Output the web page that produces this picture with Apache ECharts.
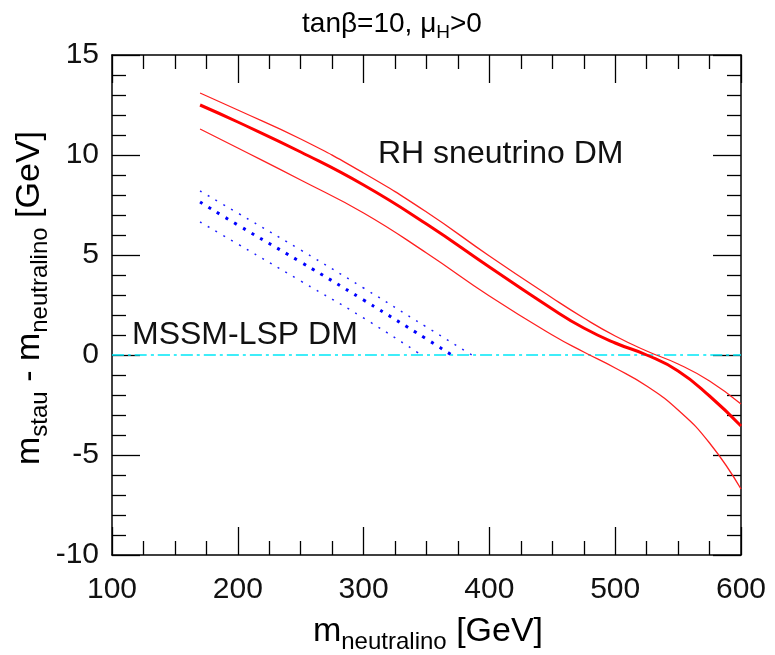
<!DOCTYPE html>
<html>
<head>
<meta charset="utf-8">
<script src="https://cdn.jsdelivr.net/npm/echarts@6/dist/echarts.min.js"></script>
<style>
html,body{margin:0;padding:0;background:#fff;}
#chart{width:775px;height:655px;}
</style>
</head>
<body>
<div id="chart"></div>
<script>
// ---- data ----
var xTicks = [100, 200, 300, 400, 500, 600];
var yTicks = [-10, -5, 0, 5, 10, 15];

var redX      = [170, 200, 250, 300, 350, 400, 450, 475, 500, 525, 550, 575, 600];
var redCenter = [12.5, 11.65, 10.15, 8.5, 6.55, 4.4, 2.3, 1.35, 0.6, 0.0, -0.8, -2.05, -3.55];
var redUpper  = [13.1, 12.25, 10.8, 9.1, 7.15, 4.95, 2.85, 1.85, 0.95, 0.2, -0.45, -1.3, -2.45];
var redLower  = [11.3, 10.35, 8.75, 7.1, 5.1, 2.95, 1.0, 0.15, -0.65, -1.55, -2.75, -4.4, -6.7];

var blueUpperX = [170, 200, 250, 300, 350, 386];
var blueUpperY = [8.2, 7.1, 5.25, 3.35, 1.4, 0];
var blueCenterX = [170, 200, 250, 300, 350, 370];
var blueCenterY = [7.65, 6.5, 4.65, 2.75, 0.8, 0];
var blueLowerX = [170, 200, 250, 300, 346];
var blueLowerY = [6.65, 5.55, 3.7, 1.85, 0];

var zeroLineX = [100, 600];
var zeroLineY = [0, 0];

function pairs(xs, ys) { return xs.map(function (x, i) { return [x, ys[i]]; }); }

var FONT = '"Liberation Sans", Arial, sans-serif';
var chart = echarts.init(document.getElementById('chart'));

function xAx(pos, showLabel) {
  return {
    type: 'value', position: pos, min: xTicks[0], max: xTicks[xTicks.length - 1], interval: 100,
    axisLine: { show: true, onZero: false, lineStyle: { color: '#000', width: 1.5 } },
    axisTick: { show: true, inside: true, length: 28, lineStyle: { color: '#000', width: 1.3 } },
    minorTick: { show: true, splitNumber: 4, length: 14, lineStyle: { color: '#000', width: 1.3 } },
    splitLine: { show: false },
    axisLabel: { show: showLabel, margin: 20, color: '#111', fontSize: 30, fontFamily: FONT }
  };
}
function yAx(pos, showLabel) {
  return {
    type: 'value', position: pos, min: yTicks[0], max: yTicks[yTicks.length - 1], interval: 5,
    axisLine: { show: true, onZero: false, lineStyle: { color: '#000', width: 1.5 } },
    axisTick: { show: true, inside: true, length: 28, lineStyle: { color: '#000', width: 1.3 } },
    minorTick: { show: true, splitNumber: 5, length: 14, lineStyle: { color: '#000', width: 1.3 } },
    splitLine: { show: false },
    axisLabel: { show: showLabel, margin: 13, color: '#111', fontSize: 30, fontFamily: FONT }
  };
}

function line(data, color, width, type, z) {
  return {
    type: 'line', data: data, smooth: 0.5, showSymbol: false, symbol: 'none',
    xAxisIndex: 0, yAxisIndex: 0, z: z || 2,
    lineStyle: { color: color, width: width, type: type }
  };
}

var titleRich = {
  a: { fontSize: 28, fontFamily: FONT, color: '#111' },
  s: { fontSize: 19, fontFamily: FONT, color: '#111', padding: [18, 0, 0, 0] }
};
var axRich = {
  a: { fontSize: 34, fontFamily: FONT, color: '#111' },
  s: { fontSize: 24, fontFamily: FONT, color: '#111', padding: [20, 0, 0, 0] }
};

chart.setOption({
  animation: false,
  backgroundColor: '#fff',
  grid: { left: 112, right: 34, top: 55, bottom: 100, containLabel: false },
  xAxis: [xAx('bottom', true), xAx('top', false)],
  yAxis: [yAx('left', true), yAx('right', false)],
  series: [
    line(pairs(zeroLineX, zeroLineY), '#00e8f8', 1.6, [12, 4, 3, 4], 1),
    line(pairs(redX, redUpper), '#ff2020', 1.3, 'solid'),
    line(pairs(redX, redCenter), '#ff0000', 3, 'solid'),
    line(pairs(redX, redLower), '#ff2020', 1.3, 'solid'),
    line(pairs(blueUpperX, blueUpperY), '#2020ff', 1.5, [2, 7]),
    line(pairs(blueCenterX, blueCenterY), '#0000ff', 3, [3, 7]),
    line(pairs(blueLowerX, blueLowerY), '#2020ff', 1.5, [2, 7])
  ],
  graphic: [
    { type: 'text', x: 392, y: 24, style: { text: '{a|tanβ=10, μ}{s|H}{a|>0}', rich: titleRich, textAlign: 'center', textVerticalAlign: 'middle' } },
    { type: 'text', x: 428, y: 632, style: { text: '{a|m}{s|neutralino}{a| [GeV]}', rich: axRich, textAlign: 'center', textVerticalAlign: 'middle' } },
    { type: 'text', x: 30, y: 298, rotation: Math.PI / 2, style: { text: '{a|m}{s|stau}{a| - m}{s|neutralino}{a| [GeV]}', rich: axRich, textAlign: 'center', textVerticalAlign: 'middle' } },
    { type: 'text', x: 378, y: 154, style: { text: 'RH sneutrino DM', font: '32px ' + FONT, fill: '#111', textVerticalAlign: 'middle' } },
    { type: 'text', x: 132, y: 335, style: { text: 'MSSM-LSP DM', font: '32px ' + FONT, fill: '#111', textVerticalAlign: 'middle' } }
  ]
});
</script>
</body>
</html>
